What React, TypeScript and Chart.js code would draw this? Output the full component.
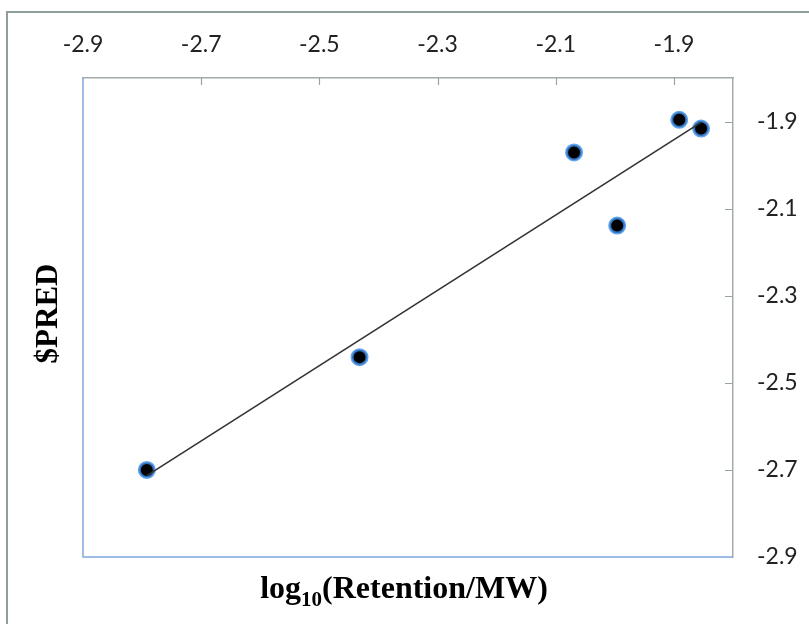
import React, { useEffect, useRef } from "react";
import { Chart, registerables } from "chart.js";

Chart.register(...registerables);

// Observed retention (x) against predicted value (y), both log10.
const retention = [-2.792, -2.432, -2.069, -1.996, -1.891, -1.854];
const predicted = [-2.7, -2.441, -1.971, -2.139, -1.896, -1.916];

const xTickValues = [-2.9, -2.7, -2.5, -2.3, -2.1, -1.9];
const yTickValues = [-2.9, -2.7, -2.5, -2.3, -2.1, -1.9];
const axisMin = -2.9;
const axisMax = -1.8;

const yTitle = "$PRED";
const xTitleMain = "log";
const xTitleSub = "10";
const xTitleRest = "(Retention/MW)";

// Least-squares fit through the points, spanning the observed x range.
function fitLine(xs: number[], ys: number[]) {
  const n = xs.length;
  const mx = xs.reduce((a, b) => a + b, 0) / n;
  const my = ys.reduce((a, b) => a + b, 0) / n;
  let sxy = 0;
  let sxx = 0;
  for (let i = 0; i < n; i++) {
    sxy += (xs[i] - mx) * (ys[i] - my);
    sxx += (xs[i] - mx) * (xs[i] - mx);
  }
  const slope = sxy / sxx;
  const x0 = Math.min(...xs);
  const x1 = Math.max(...xs);
  return [
    { x: x0, y: my + slope * (x0 - mx) },
    { x: x1, y: my + slope * (x1 - mx) },
  ];
}

const tickFont = { family: "Lato, 'Open Sans', sans-serif", size: 23 };
const serif = "'Liberation Serif', 'DejaVu Serif', serif";

const decorPlugin = {
  id: "decor",
  beforeDraw(chart: any) {
    const { ctx, width, height } = chart;
    ctx.save();
    ctx.fillStyle = "#ffffff";
    ctx.fillRect(0, 0, width, height);
    // outer chart frame
    ctx.strokeStyle = "#8f9d9d";
    ctx.lineWidth = 2;
    ctx.beginPath();
    ctx.moveTo(7, height);
    ctx.lineTo(7, 12);
    ctx.lineTo(width, 12);
    ctx.stroke();
    ctx.restore();
  },
  afterDraw(chart: any) {
    const { ctx, chartArea } = chart;
    const { left, right, top, bottom } = chartArea;
    const xs = chart.scales.x;
    const ys = chart.scales.y;
    ctx.save();
    // left and bottom edges of the plot box
    ctx.strokeStyle = "#7ea8dd";
    ctx.lineWidth = 1.5;
    ctx.beginPath();
    ctx.moveTo(left, top);
    ctx.lineTo(left, bottom);
    ctx.lineTo(right, bottom);
    ctx.stroke();
    // inward tick marks
    ctx.strokeStyle = "#9aa4a6";
    ctx.lineWidth = 1.2;
    ctx.beginPath();
    for (const v of xTickValues) {
      const px = Math.round(xs.getPixelForValue(v)) + 0.5;
      if (px <= left + 1) continue;
      ctx.moveTo(px, top);
      ctx.lineTo(px, top + 7);
    }
    for (const v of yTickValues) {
      const py = Math.round(ys.getPixelForValue(v)) + 0.5;
      if (py >= bottom - 1) continue;
      ctx.moveTo(right, py);
      ctx.lineTo(right - 8, py);
    }
    ctx.stroke();

    // axis titles
    ctx.fillStyle = "#000000";
    ctx.save();
    ctx.translate(49, (top + bottom) / 2 - 4);
    ctx.rotate(-Math.PI / 2);
    ctx.font = `bold 31px ${serif}`;
    ctx.textAlign = "center";
    ctx.textBaseline = "middle";
    ctx.fillText(yTitle, 0, 0);
    ctx.restore();

    const mainFont = `bold 32px ${serif}`;
    const subFont = `bold 21px ${serif}`;
    ctx.font = mainFont;
    const w1 = ctx.measureText(xTitleMain).width;
    const w3 = ctx.measureText(xTitleRest).width;
    ctx.font = subFont;
    const w2 = ctx.measureText(xTitleSub).width;
    const total = w1 + w2 + w3;
    const cx = (left + right) / 2 - 4;
    const baseY = 598;
    let x = cx - total / 2;
    ctx.textAlign = "left";
    ctx.textBaseline = "alphabetic";
    ctx.font = mainFont;
    ctx.fillText(xTitleMain, x, baseY);
    x += w1;
    ctx.font = subFont;
    ctx.fillText(xTitleSub, x, baseY + 8);
    x += w2;
    ctx.font = mainFont;
    ctx.fillText(xTitleRest, x, baseY);
    ctx.restore();
  },
};

export default function App() {
  const canvasRef = useRef<HTMLCanvasElement | null>(null);

  useEffect(() => {
    if (!canvasRef.current) return;
    const points = retention.map((x, i) => ({ x, y: predicted[i] }));
    const trend = fitLine(retention, predicted);

    const chart = new Chart(canvasRef.current, {
      type: "scatter",
      data: {
        datasets: [
          {
            label: "fit",
            data: trend,
            showLine: true,
            borderColor: "#333333",
            borderWidth: 1.6,
            pointRadius: 0,
            pointHoverRadius: 0,
          } as any,
          {
            label: "$PRED",
            data: points,
            pointRadius: 7.5,
            pointHoverRadius: 7.5,
            backgroundColor: "#000000",
            borderColor: "rgba(58,140,232,0.8)",
            borderWidth: 3,
          },
        ],
      },
      options: {
        responsive: false,
        animation: false,
        devicePixelRatio: 1,
        layout: { padding: { left: 83, top: 0, right: 0, bottom: 67 } },
        plugins: {
          legend: { display: false },
          tooltip: { enabled: false },
          title: { display: false },
        },
        scales: {
          x: {
            type: "linear",
            position: "top",
            min: axisMin,
            max: axisMax,
            afterBuildTicks: (s: any) => {
              s.ticks = xTickValues.map((value) => ({ value }));
            },
            afterFit: (s: any) => {
              s.height = 78;
            },
            ticks: {
              font: tickFont,
              color: "#222222",
              padding: 20,
              maxRotation: 0,
              autoSkip: false,
              callback: (v: any) => Number(v).toFixed(1),
            },
            grid: { display: true, drawOnChartArea: false, drawTicks: false },
            border: { display: true, color: "#a3abac", width: 1.5 },
          },
          y: {
            type: "linear",
            position: "right",
            min: axisMin,
            max: axisMax,
            afterBuildTicks: (s: any) => {
              s.ticks = yTickValues.map((value) => ({ value }));
            },
            afterFit: (s: any) => {
              s.width = 76;
            },
            ticks: {
              font: tickFont,
              color: "#222222",
              padding: 24,
              autoSkip: false,
              callback: (v: any) => Number(v).toFixed(1),
            },
            grid: { display: true, drawOnChartArea: false, drawTicks: false },
            border: { display: true, color: "#a3abac", width: 1.5 },
          },
        },
      },
      plugins: [decorPlugin],
    });
    return () => chart.destroy();
  }, []);

  return (
    <div style={{ position: "absolute", left: 0, top: 0, width: 809, height: 624 }}>
      <canvas ref={canvasRef} width={809} height={624} />
    </div>
  );
}
